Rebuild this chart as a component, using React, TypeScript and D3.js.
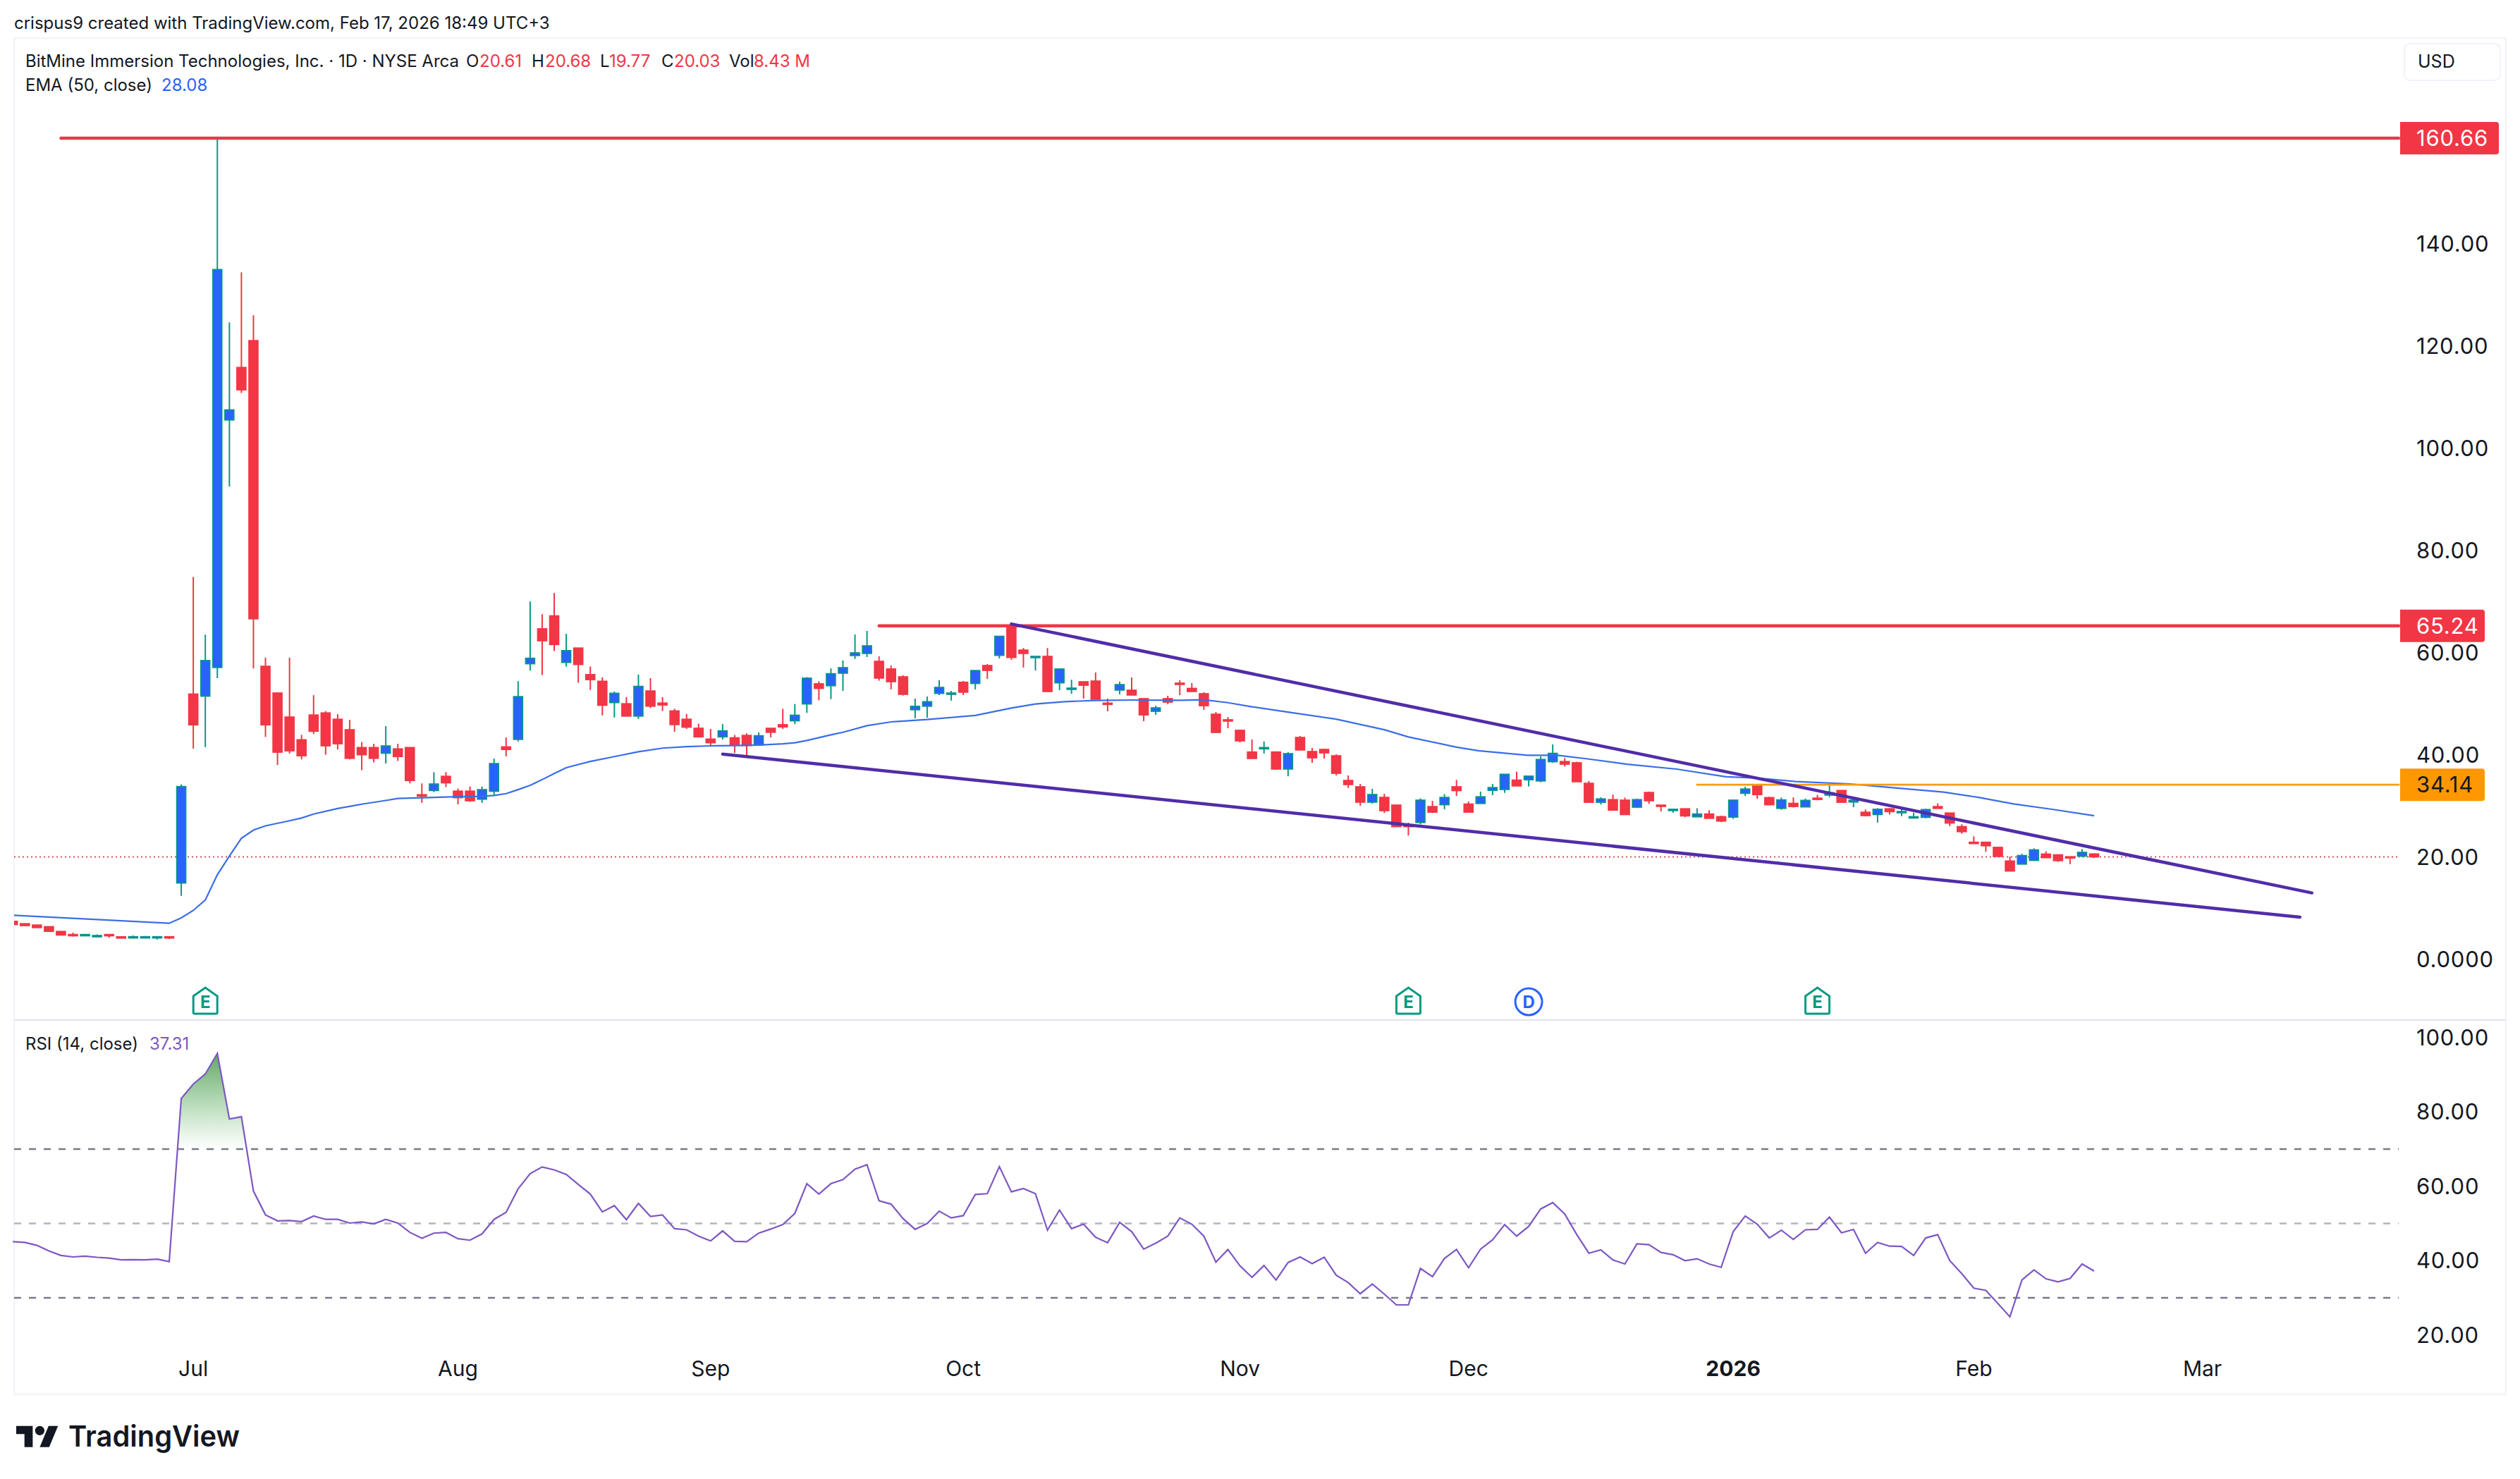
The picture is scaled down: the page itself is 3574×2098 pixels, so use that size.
import { useRef, useEffect } from 'react';
import * as d3 from 'd3';

const WIDTH = 3574;
const HEIGHT = 2098;
const FONT = 'Inter, "Noto Sans", sans-serif';

const UP_FILL = '#2962ff';
const UP_WICK = '#089981';
const DOWN = '#f23645';
const PURPLE = '#512da8';
const RSI_COLOR = '#7e57c2';
const TEXT = '#131722';

// daily candles, first bars are mid June 2025
const OPEN = [
  7.43, 6.97, 6.7, 6.38, 5.45, 4.85, 4.65, 4.5, 4.85, 4.4, 4.27, 4.27, 4.27, 4.42,
  14.9, 51.9, 51.46, 57.07, 105.5, 115.8, 121.05, 57.33, 52.1, 47.4,
  42.95, 47.8, 48.2, 46.97, 44.92, 41.43, 41.43, 40.3, 41.17, 41.43,
  32.2, 33.0, 35.8, 32.9, 32.9, 31.3, 32.85, 41.56, 43.0, 57.8,
  64.66, 67.2, 58.06, 60.9, 55.7, 54.4, 50.2, 50.0, 47.56, 52.5,
  50.14, 48.6, 46.97, 45.2, 43.08, 43.5, 43.34, 43.8, 41.9, 45.2,
  45.9, 46.64, 49.94, 53.9, 53.5, 55.95, 59.41, 59.82, 58.3, 56.8,
  55.27, 48.8, 49.5, 52.0, 51.9, 54.2, 53.94, 57.48, 59.45, 65.02,
  60.5, 59.04, 59.27, 54.07, 52.9, 54.3, 54.44, 50.12, 52.65, 52.65,
  51.0, 48.5, 51.0, 54.03, 53.0, 51.96, 47.96, 46.86, 44.8, 40.56,
  41.25, 40.56, 37.2, 43.4, 40.65, 41.06, 39.82, 34.99, 33.75, 30.72,
  31.68, 30.17, 26.2, 26.74, 29.88, 30.22, 33.76, 30.37, 30.46, 33.03,
  33.2, 35.06, 35.1, 34.87, 38.64, 38.69, 38.45, 34.43, 30.7, 31.24,
  31.14, 29.74, 32.64, 30.17, 29.16, 29.45, 27.85, 28.43, 27.9, 27.8,
  32.45, 33.9, 31.63, 29.5, 30.51, 29.79, 31.53, 32.11, 33.03, 30.75,
  28.77, 28.3, 29.45, 28.67, 27.7, 27.75, 29.88, 28.62, 25.96, 22.9,
  22.9, 21.9, 19.23, 18.6, 19.33, 20.59, 20.44, 20.06, 20.15, 20.61,
];

const HIGH = [
  7.5, 7.0, 6.75, 6.4, 5.5, 5.19, 4.9, 4.85, 4.95, 4.45, 4.65, 4.55, 4.45, 4.5,
  34.2, 74.8, 63.5, 160.66, 124.6, 134.4, 126.0, 59.0, 52.2, 59.0,
  43.9, 51.66, 48.55, 47.96, 46.84, 42.48, 42.15, 45.6, 42.15, 41.43,
  34.4, 36.6, 36.6, 33.4, 33.8, 33.8, 39.25, 43.4, 54.4, 70.0,
  67.5, 71.66, 63.67, 60.9, 57.27, 55.16, 52.4, 51.3, 55.7, 55.0,
  51.3, 49.0, 48.0, 46.1, 45.06, 46.0, 43.87, 44.2, 44.4, 45.2,
  49.0, 49.94, 55.2, 54.4, 56.9, 58.46, 63.55, 64.24, 59.27, 57.5,
  55.55, 51.0, 51.4, 54.6, 52.5, 54.44, 56.5, 57.75, 63.2, 65.66,
  60.9, 59.27, 60.9, 56.8, 54.7, 54.3, 56.1, 51.0, 54.3, 55.13,
  51.0, 49.6, 51.55, 54.58, 54.03, 52.24, 48.37, 47.4, 44.8, 43.0,
  42.6, 40.65, 40.5, 43.68, 41.34, 41.2, 40.1, 35.96, 34.3, 33.34,
  32.37, 30.17, 26.74, 31.48, 31.0, 32.3, 35.1, 30.85, 32.8, 34.3,
  36.2, 36.7, 35.84, 39.7, 42.03, 39.37, 38.64, 34.87, 31.67, 32.2,
  31.63, 31.43, 32.8, 30.17, 29.35, 29.45, 29.55, 29.16, 28.1, 31.24,
  33.76, 34.14, 31.8, 31.63, 31.67, 31.43, 32.16, 34.3, 33.03, 31.48,
  29.3, 29.55, 29.55, 29.64, 28.67, 29.45, 30.51, 28.62, 26.4, 24.03,
  22.9, 21.9, 20.1, 20.64, 21.7, 21.12, 20.44, 20.06, 21.56, 20.68,
];

const LOW = [
  6.77, 6.57, 6.18, 5.45, 4.73, 4.46, 4.55, 4.35, 4.2, 4.25, 4.2, 4.2, 3.85, 3.95,
  12.4, 41.2, 41.5, 55.0, 92.5, 110.8, 56.9, 43.5, 38.0, 40.24,
  39.1, 44.06, 40.0, 41.03, 39.1, 37.0, 38.5, 38.3, 38.8, 34.4,
  30.6, 32.7, 33.7, 30.3, 30.8, 30.6, 32.0, 39.7, 42.6, 56.5,
  55.6, 60.3, 57.27, 54.1, 52.7, 47.7, 47.3, 47.56, 47.0, 49.15,
  48.55, 44.5, 45.06, 43.5, 41.6, 43.0, 40.37, 39.7, 41.9, 43.4,
  45.06, 46.0, 48.2, 50.67, 50.9, 52.5, 58.77, 59.13, 54.5, 52.8,
  51.6, 47.13, 47.27, 51.68, 50.6, 51.68, 52.8, 54.86, 58.85, 58.6,
  57.06, 56.5, 52.37, 52.65, 51.96, 51.0, 50.86, 48.5, 51.82, 51.68,
  46.58, 47.8, 49.9, 51.68, 52.37, 48.8, 44.37, 45.2, 42.44, 39.27,
  40.24, 37.06, 35.8, 40.93, 38.44, 39.27, 35.96, 33.5, 30.0, 30.44,
  28.6, 25.94, 24.2, 26.4, 28.6, 29.35, 31.96, 28.77, 30.46, 32.1,
  32.55, 33.9, 33.8, 34.63, 38.45, 37.7, 34.72, 30.7, 30.27, 29.06,
  28.3, 29.6, 30.4, 28.9, 28.67, 27.8, 27.85, 27.56, 26.83, 27.46,
  31.96, 31.38, 30.22, 29.25, 29.69, 29.79, 31.09, 31.72, 30.7, 29.74,
  27.95, 26.74, 28.3, 28.0, 27.5, 27.6, 29.5, 26.06, 24.56, 22.57,
  21.03, 20.1, 17.25, 18.6, 19.33, 19.86, 19.04, 18.6, 20.0, 19.77,
];

const CLOSE = [
  6.77, 6.57, 6.18, 5.45, 4.73, 4.65, 4.85, 4.65, 4.65, 4.27, 4.42, 4.42, 4.42, 4.2,
  33.8, 45.85, 58.46, 134.96, 107.5, 111.4, 66.6, 45.85, 40.5, 40.77,
  39.8, 44.6, 41.75, 42.15, 39.3, 40.0, 39.3, 41.75, 39.65, 34.96,
  31.9, 34.3, 34.5, 31.6, 31.0, 33.2, 38.3, 41.03, 51.4, 58.9,
  62.3, 61.56, 60.4, 57.66, 54.7, 49.68, 52.05, 47.56, 53.4, 49.5,
  49.74, 45.9, 45.4, 43.5, 42.35, 44.7, 42.0, 41.8, 43.74, 44.4,
  45.45, 47.76, 55.0, 52.98, 55.88, 57.07, 59.96, 61.34, 55.0, 54.3,
  51.82, 49.5, 50.4, 53.2, 52.1, 52.24, 56.5, 56.5, 63.2, 59.04,
  59.82, 59.27, 52.37, 56.8, 53.06, 53.6, 50.86, 49.94, 53.75, 51.68,
  47.8, 49.2, 50.3, 53.85, 52.37, 49.6, 44.37, 46.67, 42.72, 39.27,
  41.43, 37.2, 40.24, 40.93, 39.4, 40.37, 36.37, 34.17, 30.72, 32.24,
  29.06, 25.94, 26.0, 31.14, 28.77, 31.67, 32.98, 28.77, 31.8, 33.6,
  36.2, 33.9, 35.84, 39.1, 40.3, 38.16, 34.72, 30.7, 31.38, 29.16,
  28.3, 31.24, 31.0, 29.98, 29.35, 28.04, 28.43, 27.56, 27.03, 31.14,
  33.32, 32.2, 30.22, 31.19, 29.88, 31.09, 31.29, 32.59, 30.7, 31.14,
  28.09, 29.35, 28.87, 28.92, 27.9, 29.3, 29.5, 26.64, 24.95, 22.72,
  22.19, 20.1, 17.25, 20.3, 21.41, 19.86, 19.28, 19.9, 20.93, 20.03,
];

// EMA, bar number and value side by side
const EMA_BARS = [
  0, 13, 14, 15, 16, 17, 18, 19, 20, 21, 23, 24, 25, 27, 29, 31, 32, 34, 37, 39, 40, 41, 42, 43, 44, 45, 46,
  47, 48, 50, 52, 54, 56, 58, 60, 62, 64, 65, 66, 68, 69, 71, 73, 76, 80, 83, 85, 87.4, 90, 93, 97, 99, 101,
  103, 105.4, 110, 114, 116, 120, 121.8, 125.9, 128.4, 130.9, 134.2, 138.3, 142.4, 144.9, 148.2, 152.7,
  155.6, 160.5, 163.4, 166.3, 169.6, 173,
];
const EMA_VALUES = [
  8.62, 7.04, 8.09, 9.55, 11.6, 16.54, 20.17, 23.67, 25.26, 26.1, 27.1, 27.63, 28.4, 29.5, 30.34, 31.06,
  31.46, 31.6, 31.8, 31.86, 32.05, 32.4, 33.18, 34.04, 35.15, 36.34, 37.47, 38.1, 38.7, 39.65, 40.6, 41.3,
  41.6, 41.75, 41.8, 41.9, 42.15, 42.35, 42.8, 43.9, 44.4, 45.7, 46.44, 46.9, 47.7, 49.15, 49.94, 50.4,
  50.63, 50.72, 50.67, 50.76, 50.2, 49.4, 48.56, 46.97, 44.9, 43.5, 41.5, 40.8, 39.9, 39.9, 39.2, 38.16,
  37.2, 35.7, 35.45, 34.77, 34.3, 33.7, 32.7, 31.67, 30.4, 29.3, 28.08,
];

const RSI = [
  45.1, 44.9, 44.1, 42.6, 41.4, 41.0, 41.2, 40.9, 40.7, 40.2, 40.25, 40.2, 40.4, 39.75,
  83.6, 87.5, 90.2, 95.7, 78.1, 78.7, 58.7, 52.3, 50.7, 50.8,
  50.5, 52.0, 51.1, 51.1, 50.1, 50.4, 49.9, 51.1, 50.1, 47.6,
  46.0, 47.4, 47.6, 45.9, 45.5, 47.2, 51.1, 53.0, 59.3, 63.4,
  65.2, 64.4, 63.2, 60.5, 57.9, 53.1, 54.8, 51.0, 55.4, 51.9,
  52.3, 48.6, 48.3, 46.6, 45.3, 48.0, 45.2, 45.1, 47.4, 48.5,
  49.7, 52.7, 60.7, 57.9, 60.7, 61.8, 64.6, 65.8, 56.1, 55.2,
  51.3, 48.4, 50.0, 53.3, 51.5, 52.1, 57.8, 58.0, 65.3, 58.5,
  59.4, 58.0, 48.2, 53.6, 48.6, 49.8, 46.3, 44.8, 50.3, 47.8,
  43.1, 44.7, 46.6, 51.5, 49.8, 46.6, 39.6, 43.0, 38.6, 35.5,
  38.7, 34.8, 39.5, 41.0, 39.2, 40.9, 36.1, 34.1, 31.1, 33.7,
  31.0, 28.1, 28.1, 37.9, 35.7, 40.6, 43.0, 38.1, 43.1, 45.6,
  49.7, 46.6, 49.2, 53.9, 55.6, 52.5, 47.0, 42.0, 42.9, 40.2,
  39.1, 44.5, 44.3, 42.2, 41.6, 40.0, 40.5, 39.1, 38.2, 47.8,
  52.0, 49.8, 46.1, 48.2, 45.7, 48.3, 48.4, 51.7, 47.5, 48.4,
  42.0, 44.9, 43.9, 43.8, 41.4, 46.1, 47.0, 40.0, 36.5, 32.6,
  32.0, 28.5, 24.9, 34.8, 37.5, 35.1, 34.3, 35.2, 39.1, 37.2,
];

const PRICE_TICKS = ['0.0000', '20.00', '40.00', '60.00', '80.00', '100.00', '120.00', '140.00'];
const RSI_TICKS = [20, 40, 60, 80, 100];
const RSI_LEVELS = [70, 50, 30];

const MONTH_BARS = [15, 37, 58, 79, 102, 121, 143, 163, 182];
const MONTH_LABELS = ['Jul', 'Aug', 'Sep', 'Oct', 'Nov', 'Dec', '2026', 'Feb', 'Mar'];

const EARNINGS_BARS = [16, 116, 150];
const DIVIDEND_BARS = [126];

const LEVEL_PRICES = [160.66, 65.24, 34.14];
const LEVEL_START_BARS = [4, 72, 140];
const LAST_CLOSE = 20.03;

const UPPER_TREND_BARS = [83, 191.1];
const UPPER_TREND_PRICES = [65.6, 12.97];
const LOWER_TREND_BARS = [59, 190.1];
const LOWER_TREND_PRICES = [40.14, 8.23];

export default function App() {
  const svgRef = useRef<SVGSVGElement>(null);

  useEffect(() => {
    if (!svgRef.current) return;
    const svg = d3.select(svgRef.current);
    svg.selectAll('*').remove();

    const paneLeft = 20;
    const paneRight = 3554;
    const plotRight = 3402;
    const axisX = 3427;

    const x = d3.scaleLinear().domain([0, 173]).range([18.2, 2970]);
    const y = d3.scaleLinear().domain([0, 140]).range([1360.7, 345.7]);
    const yRsi = d3.scaleLinear().domain([30, 70]).range([1841, 1630]);

    const addText = (
      px: number,
      py: number,
      str: string,
      size: number,
      fill = TEXT,
      weight = 400,
      anchor = 'start'
    ) =>
      svg
        .append('text')
        .attr('x', px)
        .attr('y', py)
        .attr('dy', '0.36em')
        .attr('font-family', FONT)
        .attr('font-size', size)
        .attr('font-weight', weight)
        .attr('fill', fill)
        .attr('text-anchor', anchor)
        .text(str);

    const defs = svg.append('defs');
    defs
      .append('clipPath')
      .attr('id', 'pane-clip')
      .append('rect')
      .attr('x', paneLeft)
      .attr('y', 54)
      .attr('width', plotRight - paneLeft)
      .attr('height', 1393);
    defs
      .append('clipPath')
      .attr('id', 'over-clip')
      .append('rect')
      .attr('x', paneLeft)
      .attr('y', 1447)
      .attr('width', plotRight - paneLeft)
      .attr('height', yRsi(70) - 1447);
    const grad = defs
      .append('linearGradient')
      .attr('id', 'over-fill')
      .attr('gradientUnits', 'userSpaceOnUse')
      .attr('x1', 0)
      .attr('x2', 0)
      .attr('y1', yRsi(96))
      .attr('y2', yRsi(70));
    grad.append('stop').attr('offset', 0).attr('stop-color', '#388e3c').attr('stop-opacity', 0.8);
    grad.append('stop').attr('offset', 1).attr('stop-color', '#4caf50').attr('stop-opacity', 0);

    // frame and pane separator
    svg.append('rect').attr('width', WIDTH).attr('height', HEIGHT).attr('fill', '#ffffff');
    svg
      .append('rect')
      .attr('x', paneLeft)
      .attr('y', 54)
      .attr('width', paneRight - paneLeft)
      .attr('height', 1924)
      .attr('fill', 'none')
      .attr('stroke', '#f0f3fa')
      .attr('stroke-width', 2);
    svg
      .append('line')
      .attr('x1', paneLeft)
      .attr('x2', paneRight)
      .attr('y1', 1447)
      .attr('y2', 1447)
      .attr('stroke', '#e0e3eb')
      .attr('stroke-width', 2);

    // last close dotted line
    svg
      .append('line')
      .attr('x1', paneLeft)
      .attr('x2', plotRight)
      .attr('y1', y(LAST_CLOSE))
      .attr('y2', y(LAST_CLOSE))
      .attr('stroke', '#c2384a')
      .attr('stroke-width', 2)
      .attr('stroke-dasharray', '2 4')
      .attr('opacity', 0.85);

    const price = svg.append('g').attr('clip-path', 'url(#pane-clip)');

    // candles
    const bars = d3.range(OPEN.length);
    const isUp = (i: number) => CLOSE[i] >= OPEN[i];
    price
      .selectAll('line.wick')
      .data(bars)
      .join('line')
      .attr('class', 'wick')
      .attr('x1', (i) => x(i))
      .attr('x2', (i) => x(i))
      .attr('y1', (i) => y(HIGH[i]))
      .attr('y2', (i) => y(LOW[i]))
      .attr('stroke', (i) => (isUp(i) ? UP_WICK : DOWN))
      .attr('stroke-width', 2);
    price
      .selectAll('rect.body')
      .data(bars)
      .join('rect')
      .attr('class', 'body')
      .attr('x', (i) => x(i) - 6.5)
      .attr('width', 13)
      .attr('y', (i) => y(Math.max(OPEN[i], CLOSE[i])))
      .attr('height', (i) => Math.max(2, Math.abs(y(OPEN[i]) - y(CLOSE[i]))))
      .attr('fill', (i) => (isUp(i) ? UP_FILL : DOWN))
      .attr('stroke', (i) => (isUp(i) ? UP_WICK : DOWN))
      .attr('stroke-width', 1.6);

    // EMA
    const emaLine = d3
      .line<number>()
      .x((d, i) => x(EMA_BARS[i]))
      .y((d) => y(d));
    price
      .append('path')
      .attr('d', emaLine(EMA_VALUES))
      .attr('fill', 'none')
      .attr('stroke', '#3a6ee6')
      .attr('stroke-width', 2.2);

    // horizontal levels
    const LEVEL_COLORS = ['#e23c4f', DOWN, '#f59c1a'];
    const LEVEL_WIDTHS = [4.5, 4.5, 2.8];
    LEVEL_PRICES.forEach((p, i) => {
      svg
        .append('line')
        .attr('x1', x(LEVEL_START_BARS[i]))
        .attr('x2', plotRight)
        .attr('y1', y(p))
        .attr('y2', y(p))
        .attr('stroke', LEVEL_COLORS[i])
        .attr('stroke-width', LEVEL_WIDTHS[i])
        .attr('stroke-linecap', 'round');
    });

    // wedge
    [
      [UPPER_TREND_BARS, UPPER_TREND_PRICES],
      [LOWER_TREND_BARS, LOWER_TREND_PRICES],
    ].forEach(([tb, tp]) => {
      svg
        .append('line')
        .attr('x1', x(tb[0]))
        .attr('x2', x(tb[1]))
        .attr('y1', y(tp[0]))
        .attr('y2', y(tp[1]))
        .attr('stroke', PURPLE)
        .attr('stroke-width', 4.5)
        .attr('stroke-linecap', 'round');
    });

    // event markers
    EARNINGS_BARS.forEach((b) => {
      const g = svg.append('g').attr('transform', `translate(${x(b)},1420)`);
      g.append('path')
        .attr('d', 'M-17,-7 L0,-19 L17,-7 L17,16 Q17,18 15,18 L-15,18 Q-17,18 -17,16 Z')
        .attr('fill', '#ffffff')
        .attr('stroke', UP_WICK)
        .attr('stroke-width', 3);
      g.append('text')
        .attr('y', 10)
        .attr('text-anchor', 'middle')
        .attr('font-family', FONT)
        .attr('font-size', 24)
        .attr('font-weight', 700)
        .attr('fill', UP_WICK)
        .text('E');
    });
    DIVIDEND_BARS.forEach((b) => {
      const g = svg.append('g').attr('transform', `translate(${x(b)},1421)`);
      g.append('circle').attr('r', 19).attr('fill', '#ffffff').attr('stroke', UP_FILL).attr('stroke-width', 3);
      g.append('text')
        .attr('y', 9)
        .attr('text-anchor', 'middle')
        .attr('font-family', FONT)
        .attr('font-size', 24)
        .attr('font-weight', 700)
        .attr('fill', UP_FILL)
        .text('D');
    });

    // RSI pane
    RSI_LEVELS.forEach((lv) => {
      svg
        .append('line')
        .attr('x1', paneLeft)
        .attr('x2', plotRight)
        .attr('y1', yRsi(lv))
        .attr('y2', yRsi(lv))
        .attr('stroke', lv === 50 ? '#b2b5be' : '#787b86')
        .attr('stroke-width', 2.4)
        .attr('stroke-dasharray', '10 11');
    });
    const rsiArea = d3
      .area<number>()
      .x((d, i) => x(i))
      .y0(yRsi(70))
      .y1((d) => yRsi(d));
    svg
      .append('path')
      .attr('d', rsiArea(RSI))
      .attr('fill', 'url(#over-fill)')
      .attr('clip-path', 'url(#over-clip)');
    const rsiLine = d3
      .line<number>()
      .x((d, i) => x(i))
      .y((d) => yRsi(d));
    svg
      .append('path')
      .attr('d', rsiLine(RSI))
      .attr('fill', 'none')
      .attr('stroke', RSI_COLOR)
      .attr('stroke-width', 2.2);

    // axes
    const axisText = (py: number, str: string, fill = TEXT) =>
      addText(axisX, py, str, 31, fill).attr('letter-spacing', 0.8);
    PRICE_TICKS.forEach((t) => axisText(y(+t), t));
    RSI_TICKS.forEach((t) => axisText(yRsi(t), t.toFixed(2)));
    MONTH_LABELS.forEach((m, i) =>
      addText(x(MONTH_BARS[i]), 1941, m, 30, TEXT, m === '2026' ? 700 : 400, 'middle')
    );

    // price tags on the axis
    const TAG_FILLS = [DOWN, DOWN, '#ff9800'];
    const TAG_TEXTS = ['#ffffff', '#ffffff', TEXT];
    LEVEL_PRICES.forEach((p, i) => {
      const right = i === 0 ? 3544 : 3524;
      svg
        .append('path')
        .attr('d', `M3404,${y(p) - 23}H${right - 4}q4,0 4,4V${y(p) + 19}q0,4 -4,4H3404Z`)
        .attr('fill', TAG_FILLS[i]);
      axisText(y(p), p.toFixed(2), TAG_TEXTS[i]);
    });

    // USD button
    svg
      .append('rect')
      .attr('x', 3410)
      .attr('y', 62)
      .attr('width', 136)
      .attr('height', 52)
      .attr('rx', 8)
      .attr('fill', '#ffffff')
      .attr('stroke', '#f0f3fa')
      .attr('stroke-width', 2);
    addText(3429, 87, 'USD', 25);

    // header and legends
    addText(20, 32, 'crispus9 created with TradingView.com, Feb 17, 2026 18:49 UTC+3', 24);
    addText(36, 86, 'BitMine Immersion Technologies, Inc. · 1D · NYSE Arca', 24);
    const LEGEND_KEYS = ['O', 'H', 'L', 'C', 'Vol'];
    const LEGEND_KEY_X = [661, 754, 851, 938, 1034];
    const LEGEND_VALUES = ['20.61', '20.68', '19.77', '20.03', '8.43 M'];
    const LEGEND_VALUE_X = [680, 773, 864, 956, 1069];
    LEGEND_KEYS.forEach((k, i) => {
      addText(LEGEND_KEY_X[i], 86, k, 24);
      addText(LEGEND_VALUE_X[i], 86, LEGEND_VALUES[i], 24, DOWN);
    });
    addText(36, 120, 'EMA (50, close)', 24);
    addText(229, 120, '28.08', 24, UP_FILL);
    addText(36, 1480, 'RSI (14, close)', 24);
    addText(212, 1480, '37.31', 24, RSI_COLOR);

    // TradingView mark
    const logo = svg
      .append('g')
      .attr('transform', 'translate(23,2016) scale(1.67)')
      .attr('fill', TEXT);
    logo.append('path').attr('d', 'M14 22H7V11H0V4h14v18zM28 22h-8l7.5-18h8L28 22z');
    logo.append('circle').attr('cx', 20).attr('cy', 8).attr('r', 4);
    addText(97, 2037, 'TradingView', 41, TEXT, 600)
      .attr('textLength', 243)
      .attr('lengthAdjust', 'spacingAndGlyphs');
  }, []);

  return (
    <svg
      ref={svgRef}
      width={WIDTH}
      height={HEIGHT}
      style={{ position: 'absolute', top: 0, left: 0, display: 'block' }}
    />
  );
}
